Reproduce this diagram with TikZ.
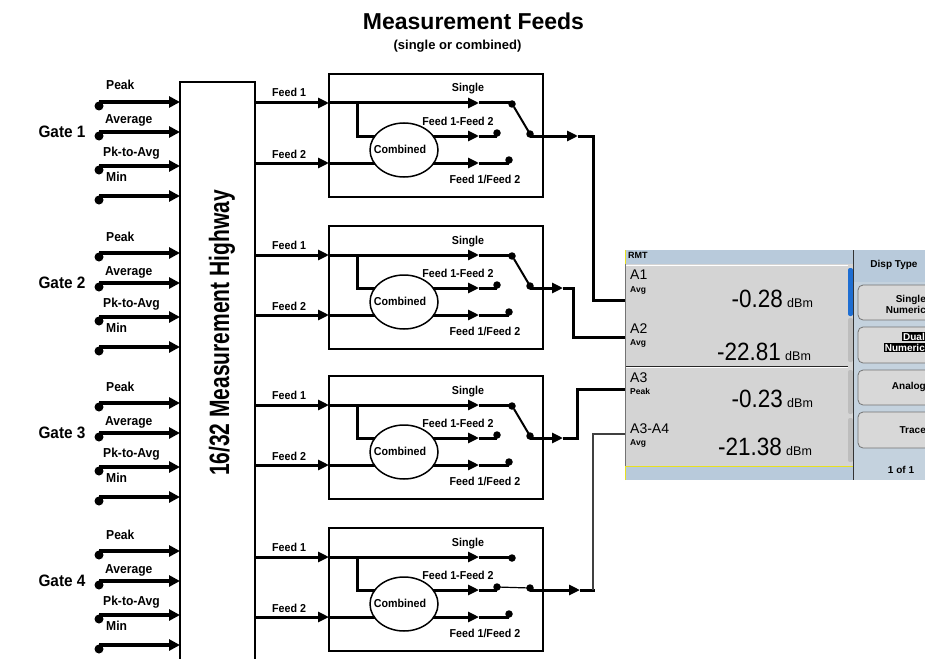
\documentclass[tikz,border=0pt]{standalone}
\usepackage{fontspec}
\setmainfont{Liberation Sans}
\newfontfamily\cnd{Liberation Sans}[FakeStretch=0.93]
\newfontfamily\hwy{Liberation Sans}[FakeStretch=0.75]
\newfontfamily\numf{Liberation Sans}[FakeStretch=0.9]
\usetikzlibrary{arrows.meta,shapes.geometric}
\pgfdeclarelayer{bg}
\pgfsetlayers{bg,main}
\definecolor{bluebar}{HTML}{B8CADB}
\definecolor{panelgray}{HTML}{D4D4D4}
\definecolor{rightbg}{HTML}{C4D2DE}
\definecolor{btngray}{HTML}{D8D8D8}
\definecolor{dispyellow}{HTML}{E8E020}
\definecolor{scrollblue}{HTML}{1E6ED2}
\definecolor{tabgray}{HTML}{BDBDBD}
\tikzset{
  hwline/.style={line width=2.3pt},
  boxline/.style={line width=2.3pt},
  inarrow/.style={line width=3.6pt,-{Triangle[length=11pt,width=11pt]}},
  feedline/.style={line width=3pt},
  feedarrow/.style={line width=3pt,-{Triangle[length=11pt,width=10pt]}},
  thinline/.style={line width=1.1pt,black!75},
  bigdot/.style={circle,fill=black,inner sep=0pt,minimum size=9pt},
  smdot/.style={circle,fill=black,inner sep=0pt,minimum size=7.5pt},
  gatelbl/.style={font={\cnd\bfseries\fontsize{13}{15}\selectfont},inner sep=0pt,anchor=base west},
  gatebig/.style={font={\cnd\bfseries\fontsize{16.5}{18}\selectfont},inner sep=0pt},
  flbl/.style={font={\cnd\bfseries\fontsize{11.5}{13}\selectfont},inner sep=0pt},
  comb/.style={draw,ellipse,fill=white,line width=1.5pt,minimum width=68pt,minimum height=54pt,inner sep=0pt},
  btn/.style={draw=black!55,fill=btngray,rounded corners=5pt,line width=0.8pt},
  btxt/.style={font={\bfseries\fontsize{10}{12}\selectfont},inner sep=0pt,anchor=base east},
  alabel/.style={font={\fontsize{14}{16}\selectfont},inner sep=0pt,anchor=base west},
  asub/.style={font={\bfseries\fontsize{8.5}{10}\selectfont},inner sep=0pt,anchor=base west},
  bignum/.style={font={\numf\fontsize{25}{27}\selectfont},inner sep=0pt,anchor=base east},
  unit/.style={font={\fontsize{12.5}{14}\selectfont},inner sep=0pt,anchor=base west}
}
\begin{document}
\begin{tikzpicture}[x=1pt,y=-1pt]
\useasboundingbox (0,0) rectangle (925,658);

% title
\node[font={\bfseries\fontsize{23}{25}\selectfont},inner sep=0pt,anchor=base] (title) at (473.5,29.5) {Measurement Feeds};
\node[font={\bfseries\fontsize{13}{15}\selectfont},inner sep=0pt,anchor=base] (subtitle) at (457.5,50) {(single or combined)};

% highway
\draw[hwline] (180,662) -- (180,82) -- (255,82) -- (255,662);
\node[rotate=90,font={\hwy\bfseries\fontsize{28}{30}\selectfont},inner sep=0pt] (hwtext) at (222,333) {16/32 Measurement Highway};

% gates
\foreach \g/\Y in {1/102,2/253,3/403,4/551}{
  \node[gatebig] (gate\g) at (62,\Y+30) {Gate \g};
  \foreach \i/\dy/\lx/\ly/\txt in {1/0/106/-12/Peak,2/30/105/-8/Average,3/64/103/-10/Pk-to-Avg,4/94/106/-15/Min}{
    \node[bigdot] (dot\g\i) at (99,\Y+\dy+4) {};
    \coordinate (src\g\i) at (99,\Y+\dy);
    \coordinate (hin\g\i) at (180,\Y+\dy);
    \draw[inarrow] (src\g\i) -- (hin\g\i);
    \node[gatelbl] (lbl\g\i) at (\lx,\Y+\dy+\ly) {\txt};
  }
}

% feed boxes
\foreach \k/\T/\ox/\tx/\dy in {1/74/593/578/300,2/226/573/563/337,3/376/577/563/389,4/528/593/580/434}{
  \draw[boxline] (329,\T) rectangle (543,\T+123);
  \coordinate (hA\k) at (255,\T+29);
  \coordinate (bA\k) at (329,\T+29);
  \coordinate (hB\k) at (255,\T+89);
  \coordinate (bB\k) at (329,\T+89);
  \draw[feedarrow] (hA\k) -- (bA\k);
  \draw[feedarrow] (hB\k) -- (bB\k);
  \node[flbl,anchor=base west] (fa\k) at (272,\T+23) {Feed 1};
  \node[flbl,anchor=base west] (fb\k) at (272,\T+84) {Feed 2};
  \coordinate (br\k) at (357,\T+29);
  \coordinate (cU\k) at (404,\T+62);
  \coordinate (aU\k) at (479,\T+62);
  \coordinate (aL\k) at (479,\T+89);
  \coordinate (aS\k) at (479,\T+29);
  \coordinate (cS\k) at (512,\T+29);
  \coordinate (cD\k) at (497,\T+62);
  \coordinate (cL\k) at (509,\T+89);
  \begin{pgfonlayer}{bg}
    \draw[feedline] (br\k) |- (cU\k);
    \draw[feedarrow] (cU\k) -- (aU\k);
    \draw[feedarrow] (bB\k) -- (aL\k);
  \end{pgfonlayer}
  \node[comb] (comb\k) at (404,\T+76) {};
  \node[flbl,anchor=base] (combt\k) at (400,\T+79) {Combined};
  \draw[feedarrow] (bA\k) -- (aS\k);
  \draw[feedline] (aS\k) -- (cS\k);
  \draw[feedline] (aU\k) -- (cD\k);
  \draw[feedline] (aL\k) -- (cL\k);
  \node[smdot] (dS\k) at (512,\T+30) {};
  \node[smdot] (dU\k) at (497,\T+59) {};
  \node[smdot] (dL\k) at (509,\T+86) {};
  \node[smdot] (piv\k) at (530,\T+60) {};
  \node[flbl,anchor=base] (ls\k) at (468,\T+18) {Single};
  \node[flbl,anchor=base] (lu\k) at (458,\T+51) {Feed 1-Feed 2};
  \node[flbl,anchor=base] (ll\k) at (485,\T+109) {Feed 1/Feed 2};
  \coordinate (pv\k) at (530,\T+62);
  \coordinate (o1\k) at (\tx,\T+62);
  \coordinate (o2\k) at (\ox,\T+62);
  \coordinate (o3\k) at (625,\dy);
  \draw[feedarrow] (pv\k) -- (o1\k);
  \ifnum\k=4
    \draw[line width=1.2pt] (dU\k.center) -- (piv\k.center);
    \draw[feedline] (o1\k) -- ([xshift=1.5pt]o2\k);
    \draw[thinline] (o2\k) |- (o3\k);
  \else
    \draw[line width=2pt] (piv\k.center) -- (514,\T+33);
    \draw[feedline] (o1\k) -- (o2\k) |- (o3\k);
  \fi
}

% display
\begin{scope}
\clip (600,240) rectangle (925,490);
\fill[bluebar] (625,250) rectangle (853,264);
\fill[panelgray] (625,264) rectangle (853,466);
\draw[white,line width=0.8pt] (626,265) -- (848,265);
\draw[black!85,line width=1pt] (625,366) -- (848,366);
\draw[white,line width=0.6pt] (626,367.4) -- (848,367.4);
\fill[bluebar] (625,466) rectangle (853,480);
\draw[dispyellow,line width=1.2pt] (625.6,250) -- (625.6,264);
\draw[dispyellow,line width=1.2pt] (625.6,480) -- (625.6,466.6) -- (853,466.6);
\draw[black!55,line width=0.8pt] (625.4,264) -- (625.4,466);
\fill[scrollblue,rounded corners=2pt] (848,268) rectangle (853,316);
\fill[tabgray,rounded corners=2pt] (848,318) rectangle (853,362);
\fill[tabgray,rounded corners=2pt] (848,370) rectangle (853,414);
\fill[tabgray,rounded corners=2pt] (848,418) rectangle (853,462);
\fill[rightbg] (854,250) rectangle (925,480);
\fill[bluebar] (854,250) rectangle (925,282);
\draw[black!80,line width=1pt] (853.5,250) -- (853.5,480);
\draw[btn] (858,285) rectangle (940,320);
\draw[btn] (858,327) rectangle (940,363);
\draw[btn] (858,370) rectangle (940,405);
\draw[btn] (858,412) rectangle (940,448);
\node[font={\bfseries\fontsize{9}{10}\selectfont},inner sep=0pt,anchor=base west] (rmt) at (628,258) {RMT};
\node[alabel] (a1) at (630,279) {A1};
\node[asub] (a1s) at (630,292) {Avg};
\node[alabel] (a2) at (630,333) {A2};
\node[asub] (a2s) at (630,345) {Avg};
\node[alabel] (a3) at (630,382) {A3};
\node[asub] (a3s) at (630,394) {Peak};
\node[alabel] (a4) at (630,433) {A3-A4};
\node[asub] (a4s) at (630,445) {Avg};
\node[bignum] (n1) at (783,307) {-0.28};
\node[unit] (u1) at (787,307) {dBm};
\node[bignum] (n2) at (781,360) {-22.81};
\node[unit] (u2) at (785,360) {dBm};
\node[bignum] (n3) at (783,407) {-0.23};
\node[unit] (u3) at (787,407) {dBm};
\node[bignum] (n4) at (782,455) {-21.38};
\node[unit] (u4) at (786,455) {dBm};
\node[font={\bfseries\fontsize{10}{12}\selectfont},inner sep=0pt,anchor=base] (dt) at (894,267) {Disp Type};
\node[btxt] (b1a) at (926,302) {Single};
\node[btxt] (b1b) at (926,313) {Numeric};
\node[btxt,fill=black,text=white,inner sep=1pt] (b2a) at (926,340) {Dual};
\node[btxt,fill=black,text=white,inner sep=1pt] (b2b) at (926,351) {Numeric};
\node[btxt] (b3) at (926,389) {Analog};
\node[btxt] (b4) at (926,433) {Trace};
\node[font={\bfseries\fontsize{10}{12}\selectfont},inner sep=0pt,anchor=base] (pg) at (901,473) {1 of 1};
\end{scope}
\end{tikzpicture}
\end{document}
